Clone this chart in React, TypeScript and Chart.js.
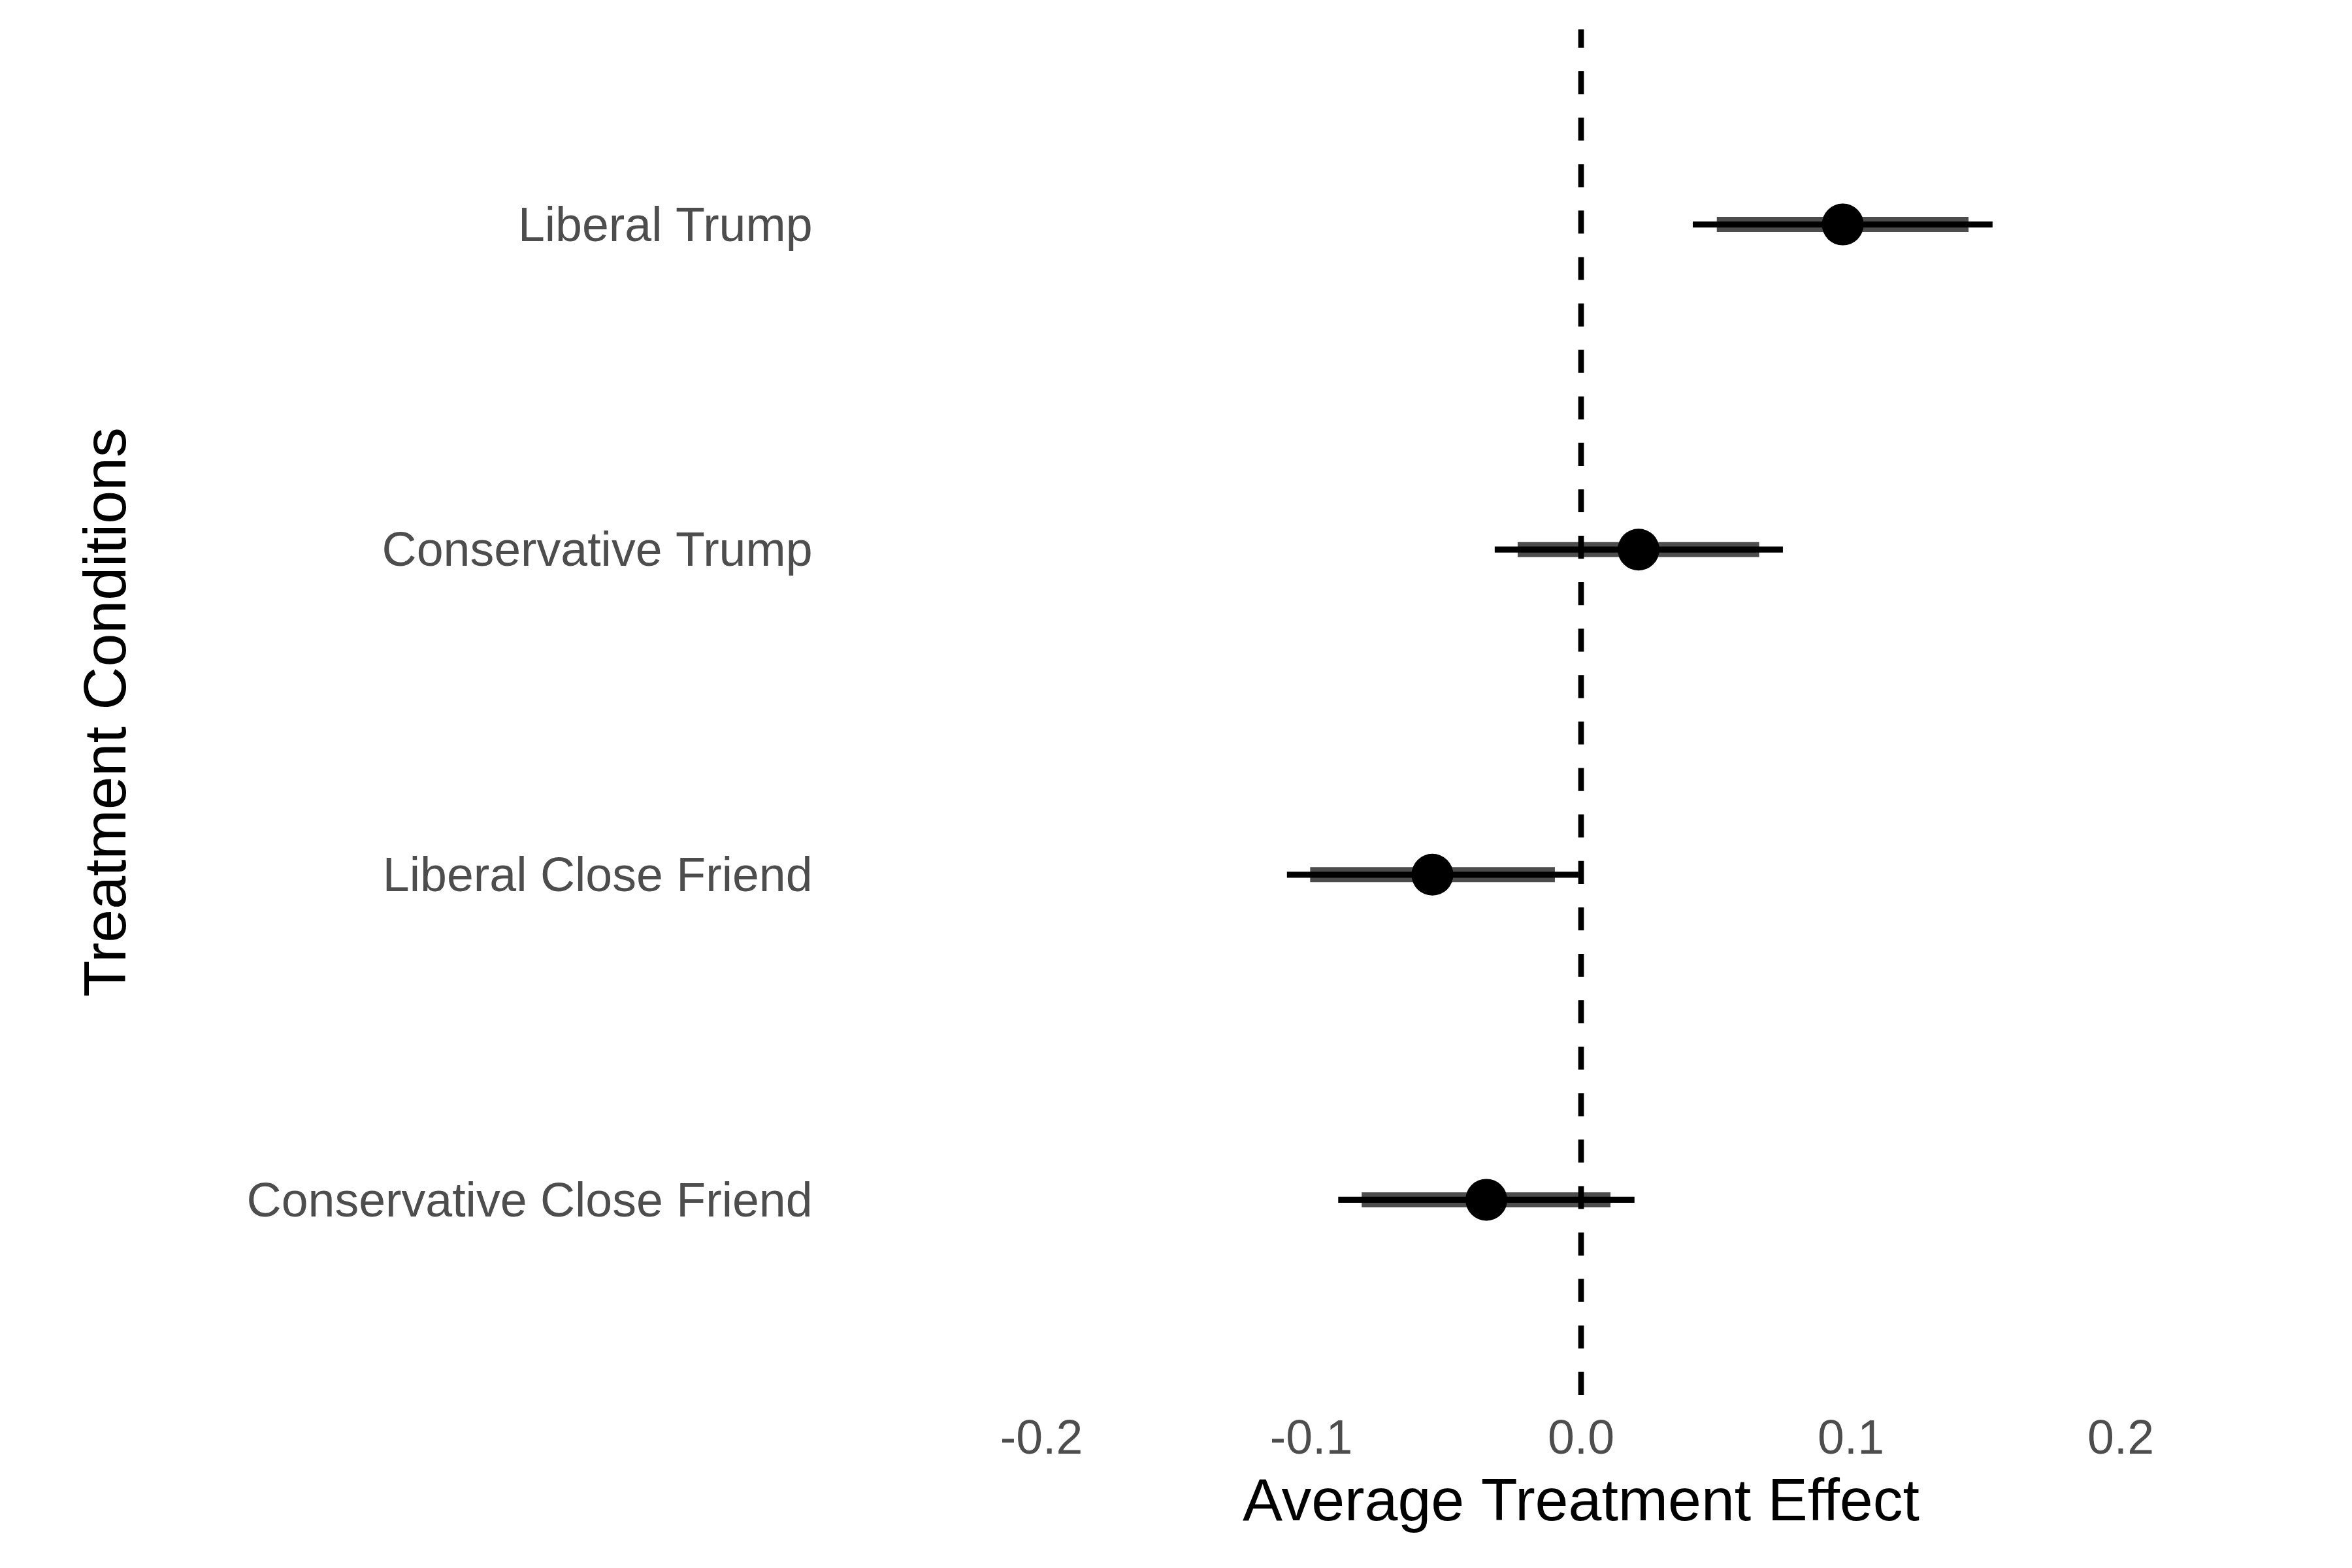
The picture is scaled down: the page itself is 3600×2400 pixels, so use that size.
import React, { useEffect, useRef } from "react";
import { Chart, registerables } from "chart.js";

Chart.register(...registerables);

const CATEGORIES = [
  "Liberal Trump",
  "Conservative Trump",
  "Liberal Close Friend",
  "Conservative Close Friend",
];
const ESTIMATES = [0.097, 0.0213, -0.0551, -0.0351];
const OUTER_LOW = [0.0414, -0.032, -0.109, -0.09];
const OUTER_HIGH = [0.1525, 0.0748, -0.001, 0.0198];
const INNER_LOW = [0.0503, -0.0235, -0.1004, -0.0813];
const INNER_HIGH = [0.1436, 0.066, -0.0097, 0.0109];
const X_TICKS = [-0.2, -0.1, 0.0, 0.1, 0.2];
const X_MIN = -0.28;
const X_MAX = 0.28;
const Y_MIN = -0.6;
const Y_MAX = 3.6;
const REF_X = 0;

const FONT = "'Liberation Sans', Arial, Helvetica, sans-serif";

export default function App() {
  const ref = useRef<HTMLCanvasElement | null>(null);

  useEffect(() => {
    const canvas = ref.current;
    if (!canvas) return;

    const datasets: any[] = [];
    datasets.push({
      label: "estimate",
      data: CATEGORIES.map((_, i) => ({ x: ESTIMATES[i], y: i })),
      showLine: false,
      pointRadius: 32,
      pointHoverRadius: 32,
      pointBorderWidth: 0,
      pointBackgroundColor: "#000000",
      pointBorderColor: "#000000",
      order: 0,
    });
    datasets.push({
      label: "ref",
      data: [
        { x: REF_X, y: Y_MAX },
        { x: REF_X, y: Y_MIN },
      ],
      showLine: true,
      borderColor: "#000000",
      borderWidth: 8.7,
      borderDash: [35.2, 35.9],
      borderCapStyle: "butt",
      pointRadius: 0,
      order: 1,
    });
    CATEGORIES.forEach((_, i) => {
      datasets.push({
        label: "outer" + i,
        data: [
          { x: OUTER_LOW[i], y: i },
          { x: OUTER_HIGH[i], y: i },
        ],
        showLine: true,
        borderColor: "#000000",
        borderWidth: 9.3,
        borderCapStyle: "butt",
        pointRadius: 0,
        order: 2,
      });
      datasets.push({
        label: "inner" + i,
        data: [
          { x: INNER_LOW[i], y: i },
          { x: INNER_HIGH[i], y: i },
        ],
        showLine: true,
        borderColor: "#4d4d4d",
        borderWidth: 23,
        borderCapStyle: "butt",
        pointRadius: 0,
        order: 3,
      });
    });

    const chart = new Chart(canvas, {
      type: "scatter",
      data: { datasets },
      options: {
        animation: false,
        responsive: false,
        devicePixelRatio: 1,
        layout: {
          autoPadding: false,
          padding: { top: 45, right: 23.6, bottom: 0, left: 0 },
        },
        plugins: {
          legend: { display: false },
          tooltip: { enabled: false },
        },
        scales: {
          x: {
            type: "linear",
            min: X_MIN,
            max: X_MAX,
            afterBuildTicks: (scale: any) => {
              scale.ticks = X_TICKS.map((v) => ({ value: v }));
            },
            afterFit: (scale: any) => {
              scale.height = 265;
              scale.paddingLeft = 0;
              scale.paddingRight = 0;
              scale.paddingTop = 0;
              scale.paddingBottom = 0;
            },
            grid: { display: false, drawTicks: false },
            border: { display: false },
            ticks: {
              padding: 25.4,
              color: "#4d4d4d",
              font: { family: FONT, size: 73.5 },
              maxRotation: 0,
              autoSkip: false,
              callback: (v: any) => Number(v).toFixed(1),
            },
            title: {
              display: true,
              text: "Average Treatment Effect",
              color: "#000000",
              font: { family: FONT, size: 91.5 },
              padding: { top: 0, bottom: 43.8 },
            },
          },
          y: {
            type: "linear",
            min: Y_MIN,
            max: Y_MAX,
            reverse: true,
            afterBuildTicks: (scale: any) => {
              scale.ticks = CATEGORIES.map((_, i) => ({ value: i }));
            },
            afterFit: (scale: any) => {
              scale.width = 1263.6;
              scale.paddingLeft = 0;
              scale.paddingRight = 0;
              scale.paddingTop = 0;
              scale.paddingBottom = 0;
            },
            grid: { display: false, drawTicks: false },
            border: { display: false },
            ticks: {
              padding: 20,
              labelOffset: 5,
              color: "#4d4d4d",
              font: { family: FONT, size: 73.5 },
              autoSkip: false,
              callback: (v: any) => CATEGORIES[Math.round(Number(v))] ?? "",
            },
            title: {
              display: true,
              text: "Treatment Conditions",
              color: "#000000",
              font: { family: FONT, size: 91.5 },
              padding: { top: 112, bottom: 0 },
            },
          },
        },
      },
    });

    return () => {
      chart.destroy();
    };
  }, []);

  return (
    <div
      style={{
        position: "absolute",
        left: 0,
        top: 0,
        width: 3600,
        height: 2400,
        background: "#ffffff",
      }}
    >
      <canvas
        ref={ref}
        width={3600}
        height={2400}
        style={{ width: 3600, height: 2400, display: "block" }}
      />
    </div>
  );
}
